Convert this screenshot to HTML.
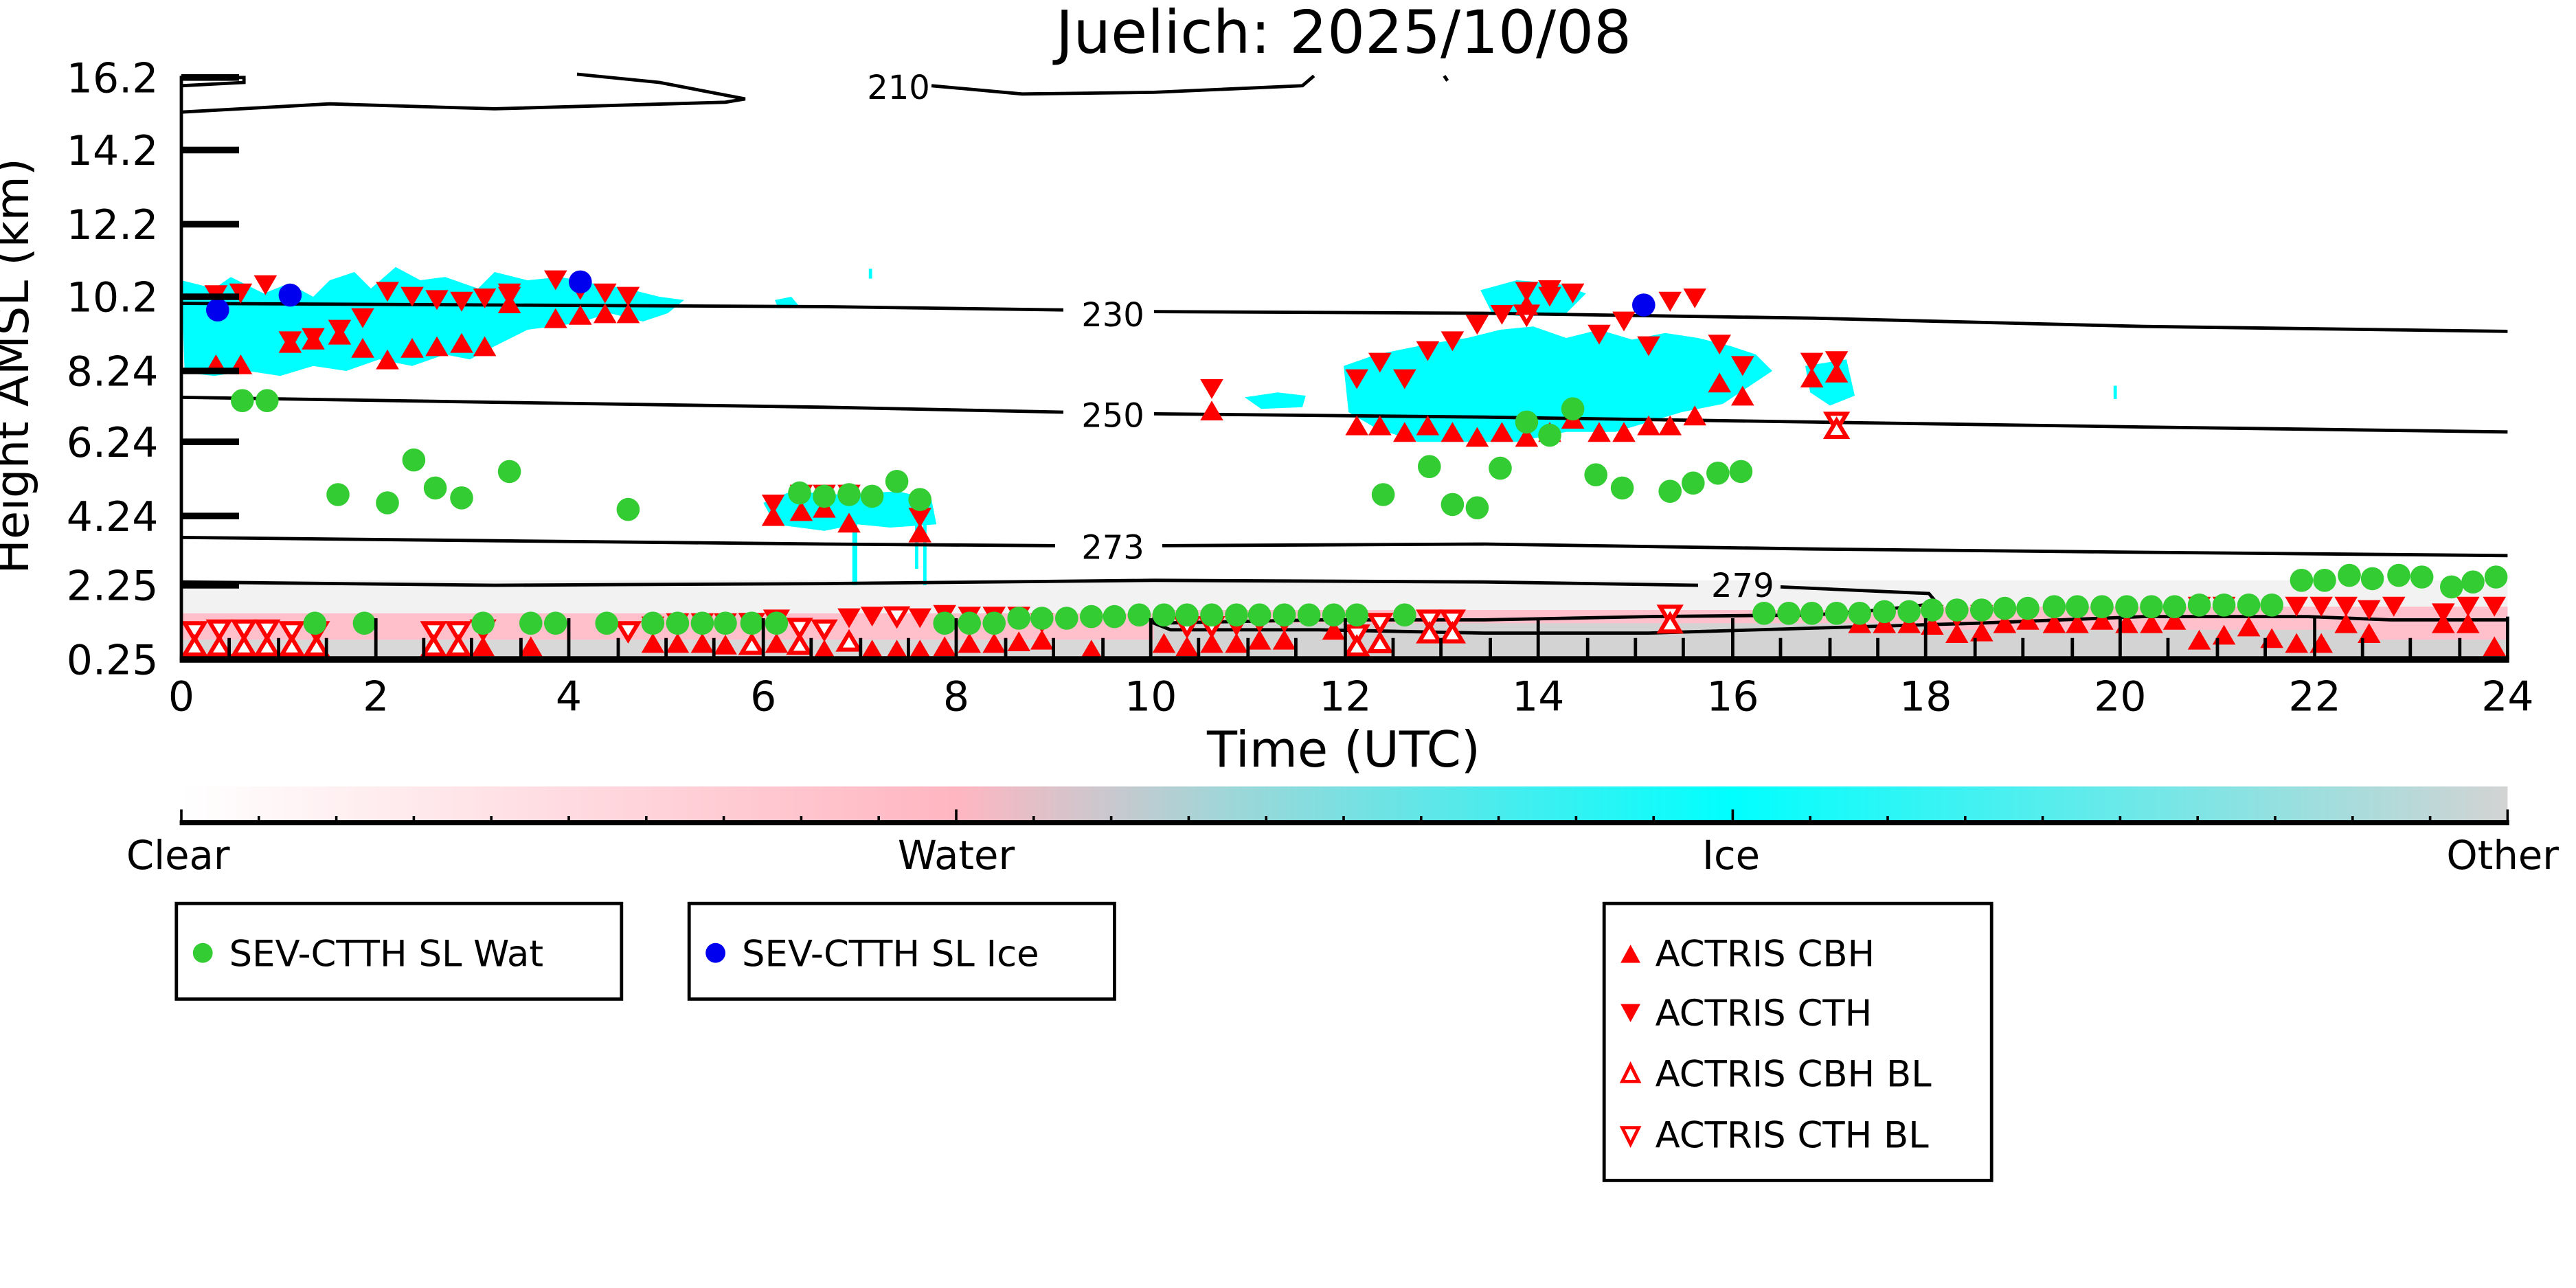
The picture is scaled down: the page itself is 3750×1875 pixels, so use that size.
<!DOCTYPE html>
<html><head><meta charset="utf-8"><style>
html,body{margin:0;padding:0;background:#fff;}
svg{display:block;}
text{font-family:"DejaVu Sans","Liberation Sans",sans-serif;}
</style></head><body>
<svg width="3750" height="1875" viewBox="0 0 1562.5 781.25" preserveAspectRatio="none" xmlns="http://www.w3.org/2000/svg">
<defs>
<linearGradient id="cb" x1="0" x2="1" y1="0" y2="0">
<stop offset="0" stop-color="#ffffff"/>
<stop offset="0.333" stop-color="#ffb6c1"/>
<stop offset="0.45" stop-color="#9fd6d8"/>
<stop offset="0.666" stop-color="#00ffff"/>
<stop offset="1" stop-color="#d3d3d3"/>
</linearGradient>
<g id="g"><circle r="7" fill="#33cc33"/></g>
<g id="b"><circle r="7" fill="#0000ee"/></g>
<g id="u"><polygon points="-7,6 7,6 0,-6" fill="#ff0000"/></g>
<g id="d"><polygon points="-7,-6 7,-6 0,6" fill="#ff0000"/></g>
<g id="ou"><polygon points="-6,5 6,5 0,-5" fill="#fff" stroke="#ff0000" stroke-width="2.5"/></g>
<g id="od"><polygon points="-6,-5 6,-5 0,5" fill="#fff" stroke="#ff0000" stroke-width="2.5"/></g>
</defs>

<text x="815" y="32" font-size="36" text-anchor="middle">Juelich: 2025/10/08</text>

<!-- bottom band -->
<rect x="110" y="352" width="1411" height="28" fill="#f2f2f2"/>
<rect x="110" y="372" width="590" height="28" fill="#ffc0cb"/>
<rect x="110" y="388" width="590" height="12" fill="#d8d8d8"/>
<rect x="700" y="374" width="821" height="26" fill="#d3d3d3"/>
<rect x="700" y="370" width="470" height="8" fill="#ffc0cb"/>
<rect x="1170" y="368" width="351" height="14" fill="#ffc0cb"/>
<rect x="1440" y="380" width="81" height="8" fill="#ffc0cb"/>

<!-- cyan clouds -->
<g fill="#00ffff">
<path d="M110,170 L130,175 L140,168 L160,178 L175,172 L190,180 L200,170 L215,165 L225,175 L240,162 L255,170 L270,168 L290,175 L300,165 L320,170 L340,168 L360,172 L380,175 L400,180 L415,182 L405,190 L390,195 L370,190 L350,196 L320,200 L300,210 L285,218 L270,215 L250,222 L230,218 L210,225 L190,222 L170,228 L150,225 L130,228 L112,226 Z"/>
<path d="M470,182 L480,180 L485,186 L472,187 Z"/>
<path d="M815,222 L835,215 L850,212 L870,208 L890,205 L910,200 L930,198 L950,205 L970,200 L990,206 L1010,202 L1030,205 L1050,210 L1065,215 L1075,225 L1060,235 L1045,245 L1020,250 L1000,256 L980,262 L950,262 L920,268 L890,268 L860,268 L835,260 L818,250 Z"/>
<path d="M898,176 L920,170 L945,172 L962,178 L950,190 L925,192 L905,190 Z"/>
<path d="M755,241 L775,238 L792,240 L790,247 L765,248 Z"/>
<path d="M1095,222 L1120,218 L1125,240 L1110,246 L1098,238 Z"/>
<path d="M463,305 L480,298 L510,300 L545,298 L565,303 L568,318 L540,320 L520,318 L500,322 L470,318 Z"/>
<rect x="517" y="315" width="3" height="40"/><rect x="555" y="315" width="2" height="30"/><rect x="560" y="310" width="2" height="45"/>
<rect x="1282" y="234" width="2" height="8"/><rect x="527" y="163" width="2" height="6"/>
</g>

<!-- contours -->
<g fill="none" stroke="#000" stroke-width="2">
<path d="M110,47 L148,47 L148,50 L110,52"/>
<path d="M110,68 L200,63 L300,66 L440,62 L452,60 L400,50 L350,45"/>
<path d="M565,52 L620,57 L700,56 L790,52 L797,46"/>
<path d="M876,46 L878,49"/>
<path d="M110,184 L300,185 L500,186 L645,188"/>
<path d="M700,189 L900,190 L1100,193 L1300,198 L1521,201"/>
<path d="M110,241 L300,244 L500,247 L645,250"/>
<path d="M700,251 L900,253 L1100,256 L1300,259 L1521,262"/>
<path d="M110,326 L300,328 L500,330 L640,331"/>
<path d="M705,331 L900,330 L1100,333 L1300,335 L1521,337"/>
<path d="M110,353 L300,355 L500,354 L700,352 L900,353 L1030,355"/>
<path d="M1080,356 L1170,360 L1175,366 L1140,370 L1100,373 L1000,374 L900,376 L800,376 L700,378"/>
<path d="M700,374 L700,378 L710,382 L800,382 L900,384 L1000,384 L1100,381 L1200,378 L1300,374 L1400,374 L1450,376 L1521,376"/>
<path d="M1521,374 L1521,400"/>
</g>
<g font-size="20" text-anchor="middle">
<text x="545" y="60">210</text>
<text x="675" y="198">230</text>
<text x="675" y="259">250</text>
<text x="675" y="339">273</text>
<text x="1057" y="362">279</text>
</g>

<!-- markers -->
<g>
<use href="#d" x="131" y="179"/><use href="#d" x="146" y="178"/><use href="#d" x="161" y="173"/><use href="#d" x="220" y="193"/><use href="#d" x="235" y="177"/><use href="#d" x="250" y="180"/><use href="#d" x="265" y="182"/><use href="#d" x="280" y="183"/><use href="#d" x="294" y="181"/><use href="#d" x="309" y="178"/><use href="#d" x="337" y="170"/><use href="#d" x="352" y="176"/><use href="#d" x="367" y="178"/><use href="#d" x="381" y="180"/><use href="#d" x="176" y="207"/><use href="#d" x="190" y="205"/><use href="#d" x="206" y="200"/><use href="#d" x="309" y="180"/>
<use href="#u" x="131" y="221"/><use href="#u" x="146" y="221"/><use href="#u" x="176" y="208"/><use href="#u" x="190" y="206"/><use href="#u" x="206" y="203"/><use href="#u" x="220" y="211"/><use href="#u" x="235" y="218"/><use href="#u" x="250" y="211"/><use href="#u" x="265" y="210"/><use href="#u" x="280" y="208"/><use href="#u" x="294" y="210"/><use href="#u" x="309" y="184"/><use href="#u" x="337" y="193"/><use href="#u" x="352" y="191"/><use href="#u" x="367" y="190"/><use href="#u" x="381" y="190"/>
<use href="#d" x="469" y="306"/><use href="#u" x="469" y="313"/><use href="#d" x="486" y="300"/><use href="#u" x="486" y="310"/><use href="#d" x="500" y="300"/><use href="#u" x="500" y="308"/><use href="#d" x="515" y="300"/><use href="#u" x="515" y="317"/><use href="#d" x="558" y="314"/><use href="#u" x="558" y="323"/>
<use href="#d" x="735" y="236"/><use href="#u" x="735" y="249"/>
<use href="#d" x="823" y="230"/><use href="#u" x="823" y="258"/><use href="#d" x="837" y="220"/><use href="#u" x="837" y="258"/><use href="#d" x="852" y="230"/><use href="#u" x="852" y="262"/><use href="#d" x="866" y="213"/><use href="#u" x="866" y="258"/><use href="#d" x="881" y="207"/><use href="#u" x="881" y="262"/><use href="#d" x="896" y="197"/><use href="#u" x="896" y="265"/><use href="#d" x="911" y="191"/><use href="#u" x="911" y="262"/><use href="#od" x="926" y="191"/><use href="#u" x="926" y="265"/><use href="#d" x="940" y="180"/><use href="#u" x="940" y="262"/><use href="#d" x="954" y="178"/><use href="#u" x="954" y="254"/><use href="#d" x="970" y="203"/><use href="#u" x="970" y="262"/><use href="#d" x="985" y="195"/><use href="#u" x="985" y="262"/><use href="#d" x="1000" y="210"/><use href="#u" x="1000" y="258"/><use href="#d" x="1013" y="183"/><use href="#u" x="1013" y="258"/><use href="#d" x="1028" y="181"/><use href="#u" x="1028" y="252"/><use href="#d" x="1043" y="209"/><use href="#u" x="1043" y="232"/><use href="#d" x="1057" y="222"/><use href="#u" x="1057" y="240"/><use href="#d" x="1099" y="220"/><use href="#u" x="1099" y="229"/><use href="#d" x="1114" y="219"/><use href="#u" x="1114" y="226"/><use href="#od" x="1114" y="256"/><use href="#ou" x="1114" y="260"/>
<use href="#d" x="926" y="177"/><use href="#u" x="926" y="185"/><use href="#d" x="940" y="176"/>
</g>
<g>
<use href="#od" x="118" y="383"/><use href="#ou" x="118" y="392"/><use href="#od" x="133" y="382"/><use href="#ou" x="133" y="392"/><use href="#od" x="148" y="382"/><use href="#ou" x="148" y="392"/><use href="#od" x="162" y="382"/><use href="#ou" x="162" y="392"/><use href="#od" x="177" y="383"/><use href="#ou" x="177" y="392"/><use href="#od" x="192" y="383"/><use href="#ou" x="192" y="392"/>
<use href="#od" x="263" y="383"/><use href="#ou" x="263" y="392"/><use href="#od" x="278" y="383"/><use href="#ou" x="278" y="392"/><use href="#od" x="293" y="382"/><use href="#u" x="293" y="392"/><use href="#od" x="381" y="383"/><use href="#u" x="322" y="392"/>
<use href="#d" x="396" y="380"/><use href="#u" x="396" y="390"/><use href="#d" x="411" y="378"/><use href="#u" x="411" y="390"/><use href="#d" x="426" y="378"/><use href="#u" x="426" y="390"/><use href="#d" x="440" y="378"/><use href="#u" x="440" y="391"/><use href="#od" x="456" y="378"/><use href="#ou" x="456" y="391"/><use href="#od" x="471" y="376"/><use href="#u" x="471" y="390"/><use href="#od" x="485" y="381"/><use href="#ou" x="485" y="391"/><use href="#od" x="500" y="382"/><use href="#u" x="500" y="394"/><use href="#d" x="515" y="375"/><use href="#ou" x="515" y="389"/><use href="#d" x="529" y="374"/><use href="#u" x="529" y="394"/><use href="#od" x="544" y="374"/><use href="#u" x="544" y="394"/><use href="#d" x="558" y="375"/><use href="#u" x="558" y="394"/><use href="#d" x="573" y="373"/><use href="#u" x="573" y="392"/><use href="#d" x="588" y="374"/><use href="#u" x="588" y="390"/><use href="#d" x="603" y="374"/><use href="#u" x="603" y="390"/><use href="#d" x="618" y="374"/><use href="#u" x="618" y="389"/><use href="#d" x="632" y="378"/><use href="#u" x="632" y="388"/><use href="#u" x="662" y="394"/>
<use href="#u" x="706" y="390"/><use href="#od" x="720" y="380"/><use href="#u" x="720" y="392"/><use href="#od" x="735" y="380"/><use href="#u" x="735" y="390"/><use href="#d" x="750" y="380"/><use href="#u" x="750" y="390"/><use href="#d" x="764" y="378"/><use href="#u" x="764" y="388"/><use href="#d" x="779" y="378"/><use href="#u" x="779" y="388"/><use href="#u" x="809" y="382"/><use href="#od" x="823" y="385"/><use href="#ou" x="823" y="392"/><use href="#od" x="837" y="378"/><use href="#ou" x="837" y="390"/><use href="#od" x="867" y="376"/><use href="#od" x="881" y="376"/><use href="#ou" x="867" y="384"/><use href="#ou" x="881" y="384"/><use href="#od" x="1013" y="373"/><use href="#ou" x="1013" y="378"/>
<use href="#u" x="1128" y="378"/><use href="#u" x="1143" y="378"/><use href="#d" x="1158" y="375"/><use href="#u" x="1158" y="378"/><use href="#d" x="1172" y="373"/><use href="#u" x="1172" y="379"/><use href="#d" x="1187" y="375"/><use href="#u" x="1187" y="384"/><use href="#d" x="1202" y="373"/><use href="#u" x="1202" y="383"/><use href="#u" x="1216" y="378"/><use href="#u" x="1230" y="376"/><use href="#u" x="1246" y="378"/><use href="#u" x="1260" y="378"/><use href="#u" x="1275" y="376"/><use href="#u" x="1290" y="378"/><use href="#u" x="1305" y="378"/><use href="#u" x="1319" y="376"/><use href="#d" x="1334" y="368"/><use href="#u" x="1334" y="388"/><use href="#d" x="1349" y="368"/><use href="#u" x="1349" y="385"/><use href="#u" x="1364" y="380"/><use href="#u" x="1378" y="387"/><use href="#d" x="1393" y="368"/><use href="#u" x="1393" y="390"/><use href="#d" x="1408" y="368"/><use href="#u" x="1408" y="390"/><use href="#d" x="1423" y="368"/><use href="#u" x="1423" y="378"/><use href="#d" x="1437" y="370"/><use href="#u" x="1437" y="384"/><use href="#d" x="1452" y="368"/><use href="#d" x="1482" y="372"/><use href="#u" x="1482" y="378"/><use href="#d" x="1497" y="368"/><use href="#u" x="1497" y="378"/><use href="#d" x="1513" y="368"/><use href="#u" x="1513" y="392"/>
</g>
<g>
<use href="#g" x="147" y="243"/><use href="#g" x="162" y="243"/><use href="#g" x="205" y="300"/><use href="#g" x="235" y="305"/><use href="#g" x="251" y="279"/><use href="#g" x="264" y="296"/><use href="#g" x="280" y="302"/><use href="#g" x="309" y="286"/><use href="#g" x="381" y="309"/>
<use href="#g" x="191" y="378"/><use href="#g" x="221" y="378"/><use href="#g" x="293" y="378"/><use href="#g" x="322" y="378"/><use href="#g" x="337" y="378"/><use href="#g" x="368" y="378"/><use href="#g" x="396" y="378"/><use href="#g" x="411" y="378"/><use href="#g" x="426" y="378"/><use href="#g" x="440" y="378"/><use href="#g" x="456" y="378"/><use href="#g" x="471" y="378"/>
<use href="#g" x="485" y="299"/><use href="#g" x="500" y="301"/><use href="#g" x="515" y="300"/><use href="#g" x="529" y="301"/><use href="#g" x="544" y="292"/><use href="#g" x="558" y="303"/>
<use href="#g" x="573" y="378"/><use href="#g" x="588" y="378"/><use href="#g" x="603" y="378"/><use href="#g" x="618" y="375"/><use href="#g" x="632" y="375"/><use href="#g" x="647" y="375"/><use href="#g" x="662" y="374"/><use href="#g" x="676" y="374"/><use href="#g" x="691" y="373"/><use href="#g" x="706" y="373"/><use href="#g" x="720" y="373"/><use href="#g" x="735" y="373"/><use href="#g" x="750" y="373"/><use href="#g" x="764" y="373"/><use href="#g" x="779" y="373"/><use href="#g" x="794" y="373"/><use href="#g" x="809" y="373"/><use href="#g" x="823" y="373"/><use href="#g" x="852" y="373"/>
<use href="#g" x="839" y="300"/><use href="#g" x="867" y="283"/><use href="#g" x="881" y="306"/><use href="#g" x="896" y="308"/><use href="#g" x="910" y="284"/><use href="#g" x="926" y="256"/><use href="#g" x="940" y="264"/><use href="#g" x="954" y="248"/><use href="#g" x="968" y="288"/><use href="#g" x="984" y="296"/><use href="#g" x="1013" y="298"/><use href="#g" x="1027" y="293"/><use href="#g" x="1042" y="287"/><use href="#g" x="1056" y="286"/>
<use href="#g" x="1070" y="372"/><use href="#g" x="1085" y="372"/><use href="#g" x="1099" y="372"/><use href="#g" x="1114" y="372"/><use href="#g" x="1128" y="372"/><use href="#g" x="1143" y="371"/><use href="#g" x="1158" y="371"/><use href="#g" x="1172" y="370"/><use href="#g" x="1187" y="370"/><use href="#g" x="1202" y="370"/><use href="#g" x="1216" y="369"/><use href="#g" x="1230" y="369"/><use href="#g" x="1246" y="368"/><use href="#g" x="1260" y="368"/><use href="#g" x="1275" y="368"/><use href="#g" x="1290" y="368"/><use href="#g" x="1305" y="368"/><use href="#g" x="1319" y="368"/><use href="#g" x="1334" y="367"/><use href="#g" x="1349" y="367"/><use href="#g" x="1364" y="367"/><use href="#g" x="1378" y="367"/>
<use href="#g" x="1396" y="352"/><use href="#g" x="1410" y="352"/><use href="#g" x="1425" y="349"/><use href="#g" x="1439" y="351"/><use href="#g" x="1455" y="349"/><use href="#g" x="1469" y="350"/><use href="#g" x="1487" y="356"/><use href="#g" x="1500" y="353"/><use href="#g" x="1514" y="350"/>
<use href="#b" x="132" y="188"/><use href="#b" x="176" y="179"/><use href="#b" x="352" y="171"/><use href="#b" x="997" y="185"/>
</g>

<!-- axes -->
<g stroke="#000">
<line x1="110" y1="46" x2="110" y2="401" stroke-width="2"/>
<line x1="109" y1="400" x2="1522" y2="400" stroke-width="4"/>
<g stroke-width="4">
<line x1="110" y1="47" x2="145" y2="47"/><line x1="110" y1="91" x2="145" y2="91"/><line x1="110" y1="136" x2="145" y2="136"/><line x1="110" y1="180" x2="145" y2="180"/><line x1="110" y1="225" x2="145" y2="225"/><line x1="110" y1="268" x2="145" y2="268"/><line x1="110" y1="313" x2="145" y2="313"/><line x1="110" y1="355" x2="145" y2="355"/>
</g>
<g stroke-width="2">
<line x1="228" y1="375" x2="228" y2="400"/><line x1="345" y1="375" x2="345" y2="400"/><line x1="463" y1="375" x2="463" y2="400"/><line x1="580" y1="375" x2="580" y2="400"/><line x1="698" y1="375" x2="698" y2="400"/><line x1="816" y1="375" x2="816" y2="400"/><line x1="933" y1="375" x2="933" y2="400"/><line x1="1051" y1="375" x2="1051" y2="400"/><line x1="1168" y1="375" x2="1168" y2="400"/><line x1="1286" y1="375" x2="1286" y2="400"/><line x1="1404" y1="375" x2="1404" y2="400"/>
<path d="M139,387V400M169,387V400M198,387V400M257,387V400M286,387V400M316,387V400M375,387V400M404,387V400M433,387V400M492,387V400M522,387V400M551,387V400M610,387V400M639,387V400M669,387V400M727,387V400M757,387V400M786,387V400M845,387V400M874,387V400M904,387V400M963,387V400M992,387V400M1021,387V400M1080,387V400M1110,387V400M1139,387V400M1198,387V400M1227,387V400M1257,387V400M1315,387V400M1345,387V400M1374,387V400M1433,387V400M1462,387V400M1492,387V400"/>
</g>
</g>
<g font-size="25" text-anchor="end">
<text x="96" y="56">16.2</text><text x="96" y="100">14.2</text><text x="96" y="145">12.2</text><text x="96" y="189">10.2</text><text x="96" y="234">8.24</text><text x="96" y="277">6.24</text><text x="96" y="322">4.24</text><text x="96" y="364">2.25</text><text x="96" y="409">0.25</text>
</g>
<text transform="translate(17,222) rotate(-90)" font-size="28" text-anchor="middle">Height AMSL (km)</text>
<g font-size="25" text-anchor="middle">
<text x="110" y="431">0</text><text x="228" y="431">2</text><text x="345" y="431">4</text><text x="463" y="431">6</text><text x="580" y="431">8</text><text x="698" y="431">10</text><text x="816" y="431">12</text><text x="933" y="431">14</text><text x="1051" y="431">16</text><text x="1168" y="431">18</text><text x="1286" y="431">20</text><text x="1404" y="431">22</text><text x="1521" y="431">24</text>
</g>
<text x="815" y="465" font-size="30" text-anchor="middle">Time (UTC)</text>

<!-- colorbar -->
<rect x="110" y="477" width="1411" height="22" fill="url(#cb)"/>
<line x1="109" y1="499" x2="1522" y2="499" stroke="#000" stroke-width="3"/>
<path stroke="#000" stroke-width="1.5" d="M110,491V499M580,491V499M1051,491V499M1521,491V499M157,495V499M204,495V499M251,495V499M298,495V499M345,495V499M392,495V499M439,495V499M486,495V499M533,495V499M627,495V499M674,495V499M721,495V499M768,495V499M815,495V499M862,495V499M909,495V499M956,495V499M1003,495V499M1098,495V499M1145,495V499M1192,495V499M1239,495V499M1286,495V499M1333,495V499M1380,495V499M1427,495V499M1474,495V499"/>
<g font-size="24" text-anchor="middle">
<text x="108" y="527">Clear</text><text x="580" y="527">Water</text><text x="1050" y="527">Ice</text><text x="1518" y="527">Other</text>
</g>

<!-- legends -->
<g fill="#fff" stroke="#000" stroke-width="2">
<rect x="107" y="548" width="270" height="58"/>
<rect x="418" y="548" width="258" height="58"/>
<rect x="973" y="548" width="235" height="168"/>
</g>
<g font-size="22">
<circle cx="123" cy="578" r="6" fill="#33cc33"/><text x="139" y="586">SEV-CTTH SL Wat</text>
<circle cx="434" cy="578" r="6" fill="#0000ee"/><text x="450" y="586">SEV-CTTH SL Ice</text>
<polygon points="983,584 995,584 989,573" fill="#ff0000"/><text x="1004" y="586">ACTRIS CBH</text>
<polygon points="983,609 995,609 989,620" fill="#ff0000"/><text x="1004" y="622">ACTRIS CTH</text>
<polygon points="984,656 994,656 989,646" fill="#fff" stroke="#ff0000" stroke-width="2"/><text x="1004" y="659">ACTRIS CBH BL</text>
<polygon points="984,684 994,684 989,694" fill="#fff" stroke="#ff0000" stroke-width="2"/><text x="1004" y="696">ACTRIS CTH BL</text>
</g>
</svg>
</body></html>
